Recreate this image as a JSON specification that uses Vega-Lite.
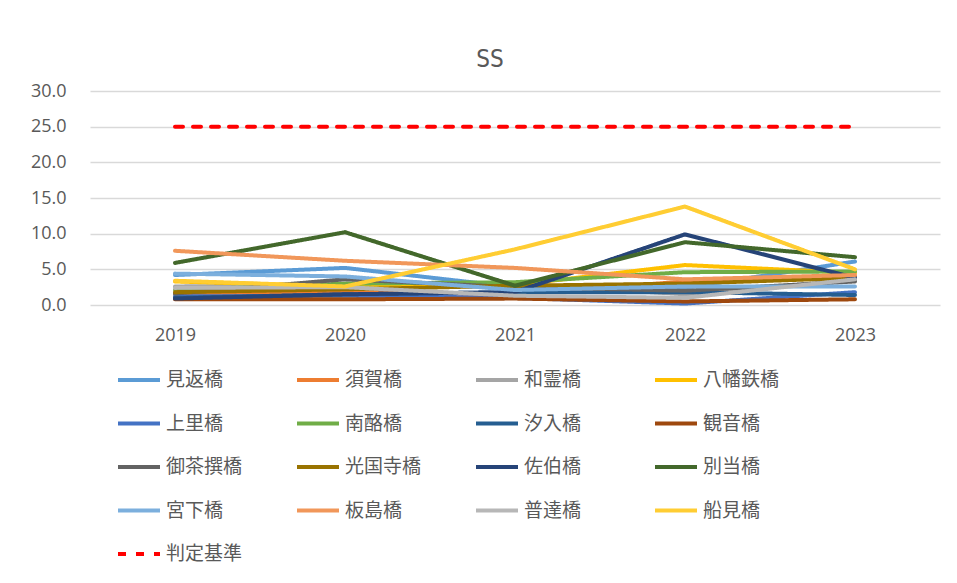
{
  "$schema": "https://vega.github.io/schema/vega-lite/v6.json",
  "width": 850,
  "height": 214,
  "autosize": {"type": "none"},
  "padding": {"left": 90, "top": 91, "right": 17, "bottom": 278},
  "background": "white",
  "title": {
    "text": "SS",
    "font": "DejaVu Sans Condensed, Liberation Sans Narrow, Liberation Sans",
    "fontSize": 24,
    "fontWeight": "normal",
    "color": "#595959",
    "anchor": "middle",
    "dx": -25,
    "baseline": "alphabetic",
    "offset": -9
  },
  "data": {
    "values": [
      {"year": "2019", "name": "見返橋", "value": 4.2},
      {"year": "2020", "name": "見返橋", "value": 5.2},
      {"year": "2021", "name": "見返橋", "value": 2.5},
      {"year": "2022", "name": "見返橋", "value": 2.4},
      {"year": "2023", "name": "見返橋", "value": 6.1},
      {"year": "2019", "name": "須賀橋", "value": 1.5},
      {"year": "2020", "name": "須賀橋", "value": 1.8},
      {"year": "2021", "name": "須賀橋", "value": 1.5},
      {"year": "2022", "name": "須賀橋", "value": 3.3},
      {"year": "2023", "name": "須賀橋", "value": 4.0},
      {"year": "2019", "name": "和霊橋", "value": 2.6},
      {"year": "2020", "name": "和霊橋", "value": 2.8},
      {"year": "2021", "name": "和霊橋", "value": 3.0},
      {"year": "2022", "name": "和霊橋", "value": 1.5},
      {"year": "2023", "name": "和霊橋", "value": 3.5},
      {"year": "2019", "name": "八幡鉄橋", "value": 3.3},
      {"year": "2020", "name": "八幡鉄橋", "value": 2.6},
      {"year": "2021", "name": "八幡鉄橋", "value": 2.8},
      {"year": "2022", "name": "八幡鉄橋", "value": 5.6},
      {"year": "2023", "name": "八幡鉄橋", "value": 4.5},
      {"year": "2019", "name": "上里橋", "value": 1.2},
      {"year": "2020", "name": "上里橋", "value": 1.3},
      {"year": "2021", "name": "上里橋", "value": 1.0},
      {"year": "2022", "name": "上里橋", "value": 0.2},
      {"year": "2023", "name": "上里橋", "value": 1.8},
      {"year": "2019", "name": "南酪橋", "value": 2.1},
      {"year": "2020", "name": "南酪橋", "value": 3.0},
      {"year": "2021", "name": "南酪橋", "value": 3.2},
      {"year": "2022", "name": "南酪橋", "value": 4.6},
      {"year": "2023", "name": "南酪橋", "value": 4.7},
      {"year": "2019", "name": "汐入橋", "value": 1.0},
      {"year": "2020", "name": "汐入橋", "value": 1.5},
      {"year": "2021", "name": "汐入橋", "value": 1.8},
      {"year": "2022", "name": "汐入橋", "value": 1.8},
      {"year": "2023", "name": "汐入橋", "value": 1.4},
      {"year": "2019", "name": "観音橋", "value": 0.8},
      {"year": "2020", "name": "観音橋", "value": 0.8},
      {"year": "2021", "name": "観音橋", "value": 0.9},
      {"year": "2022", "name": "観音橋", "value": 0.5},
      {"year": "2023", "name": "観音橋", "value": 0.8},
      {"year": "2019", "name": "御茶撰橋", "value": 1.6},
      {"year": "2020", "name": "御茶撰橋", "value": 3.6},
      {"year": "2021", "name": "御茶撰橋", "value": 2.5},
      {"year": "2022", "name": "御茶撰橋", "value": 2.0},
      {"year": "2023", "name": "御茶撰橋", "value": 3.3},
      {"year": "2019", "name": "光国寺橋", "value": 1.8},
      {"year": "2020", "name": "光国寺橋", "value": 2.2},
      {"year": "2021", "name": "光国寺橋", "value": 2.7},
      {"year": "2022", "name": "光国寺橋", "value": 3.0},
      {"year": "2023", "name": "光国寺橋", "value": 3.8},
      {"year": "2019", "name": "佐伯橋", "value": 0.9},
      {"year": "2020", "name": "佐伯橋", "value": 1.5},
      {"year": "2021", "name": "佐伯橋", "value": 1.8},
      {"year": "2022", "name": "佐伯橋", "value": 9.9},
      {"year": "2023", "name": "佐伯橋", "value": 3.8},
      {"year": "2019", "name": "別当橋", "value": 5.9},
      {"year": "2020", "name": "別当橋", "value": 10.2},
      {"year": "2021", "name": "別当橋", "value": 2.7},
      {"year": "2022", "name": "別当橋", "value": 8.8},
      {"year": "2023", "name": "別当橋", "value": 6.7},
      {"year": "2019", "name": "宮下橋", "value": 4.4},
      {"year": "2020", "name": "宮下橋", "value": 4.0},
      {"year": "2021", "name": "宮下橋", "value": 2.1},
      {"year": "2022", "name": "宮下橋", "value": 2.6},
      {"year": "2023", "name": "宮下橋", "value": 2.6},
      {"year": "2019", "name": "板島橋", "value": 7.6},
      {"year": "2020", "name": "板島橋", "value": 6.2},
      {"year": "2021", "name": "板島橋", "value": 5.2},
      {"year": "2022", "name": "板島橋", "value": 3.6},
      {"year": "2023", "name": "板島橋", "value": 4.2},
      {"year": "2019", "name": "普達橋", "value": 2.4},
      {"year": "2020", "name": "普達橋", "value": 2.5},
      {"year": "2021", "name": "普達橋", "value": 1.3},
      {"year": "2022", "name": "普達橋", "value": 1.0},
      {"year": "2023", "name": "普達橋", "value": 3.6},
      {"year": "2019", "name": "船見橋", "value": 3.4},
      {"year": "2020", "name": "船見橋", "value": 2.6},
      {"year": "2021", "name": "船見橋", "value": 7.8},
      {"year": "2022", "name": "船見橋", "value": 13.8},
      {"year": "2023", "name": "船見橋", "value": 5.0},
      {"year": "2019", "name": "判定基準", "value": 25},
      {"year": "2020", "name": "判定基準", "value": 25},
      {"year": "2021", "name": "判定基準", "value": 25},
      {"year": "2022", "name": "判定基準", "value": 25},
      {"year": "2023", "name": "判定基準", "value": 25}
    ]
  },
  "mark": {"type": "line", "strokeWidth": 4, "strokeCap": "round", "strokeJoin": "round"},
  "encoding": {
    "x": {
      "field": "year",
      "type": "ordinal",
      "scale": {"type": "point", "padding": 0.5},
      "axis": {
        "title": null,
        "labelAngle": 0,
        "labelFont": "Open Sans",
        "labelFontSize": 18,
        "labelColor": "#595959",
        "labelPadding": 21,
        "ticks": false,
        "domain": false,
        "grid": false
      }
    },
    "y": {
      "field": "value",
      "type": "quantitative",
      "scale": {"domain": [0, 30], "nice": false},
      "axis": {
        "title": null,
        "values": [0, 5, 10, 15, 20, 25, 30],
        "format": ".1f",
        "labelFont": "Open Sans",
        "labelFontSize": 18,
        "labelColor": "#595959",
        "labelPadding": 24,
        "ticks": false,
        "domain": false,
        "grid": true,
        "gridColor": "#D9D9D9",
        "gridWidth": 1.3
      }
    },
    "color": {
      "field": "name",
      "type": "nominal",
      "scale": {
        "domain": ["見返橋", "須賀橋", "和霊橋", "八幡鉄橋", "上里橋", "南酪橋", "汐入橋", "観音橋", "御茶撰橋", "光国寺橋", "佐伯橋", "別当橋", "宮下橋", "板島橋", "普達橋", "船見橋", "判定基準"],
        "range": ["#5B9BD5", "#ED7D31", "#A5A5A5", "#FFC000", "#4472C4", "#70AD47", "#255E91", "#9E480E", "#636363", "#997300", "#264478", "#43682B", "#7CAFDD", "#F1975A", "#B7B7B7", "#FFCD33", "#FF0000"]
      },
      "legend": {"title": null}
    },
    "strokeDash": {
      "field": "name",
      "type": "nominal",
      "scale": {
        "domain": ["見返橋", "須賀橋", "和霊橋", "八幡鉄橋", "上里橋", "南酪橋", "汐入橋", "観音橋", "御茶撰橋", "光国寺橋", "佐伯橋", "別当橋", "宮下橋", "板島橋", "普達橋", "船見橋", "判定基準"],
        "range": [[1, 0], [1, 0], [1, 0], [1, 0], [1, 0], [1, 0], [1, 0], [1, 0], [1, 0], [1, 0], [1, 0], [1, 0], [1, 0], [1, 0], [1, 0], [1, 0], [8, 10]]
      },
      "legend": {"title": null}
    }
  },
  "config": {
    "view": {"stroke": null},
    "legend": {
      "orient": "none",
      "direction": "horizontal",
      "legendX": 26,
      "legendY": 266,
      "columns": 4,
      "symbolType": "stroke",
      "symbolSize": 1764,
      "symbolStrokeWidth": 4,
      "labelFont": "Noto Sans CJK JP",
      "labelFontSize": 19,
      "labelColor": "#595959",
      "labelOffset": 4,
      "rowPadding": 10.5,
      "columnPadding": 46,
      "gridAlign": "all",
      "labelLimit": 200
    }
  }
}
